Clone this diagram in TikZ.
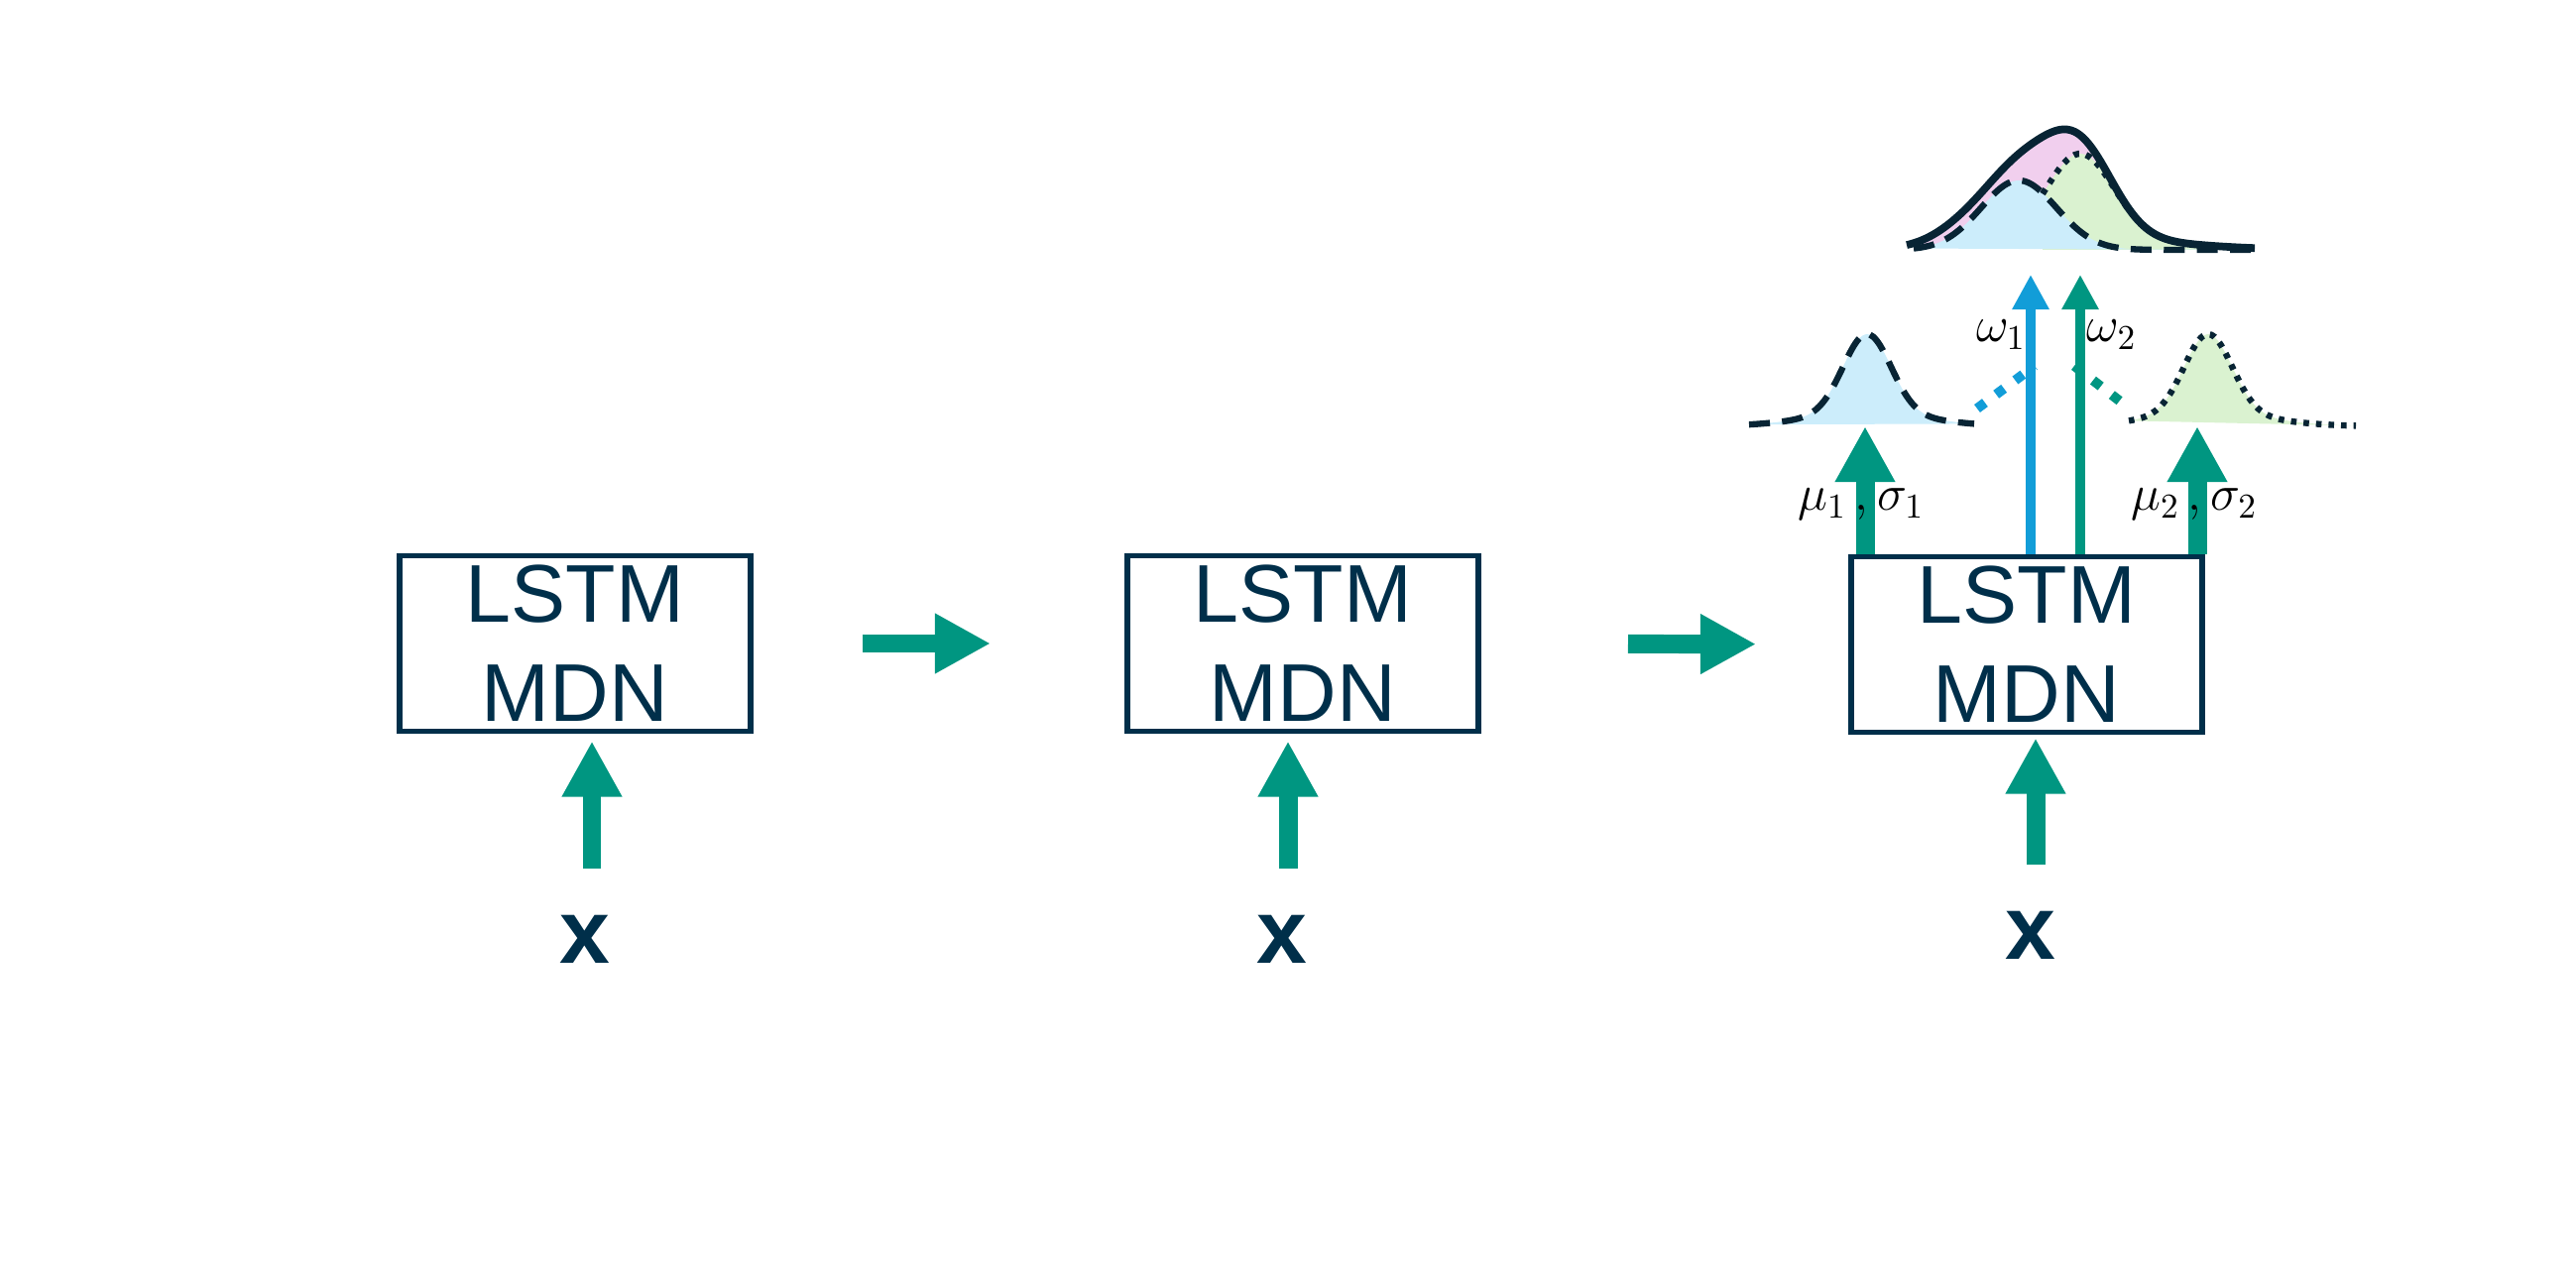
\documentclass[tikz,border=0pt]{standalone}
\usepackage{fontspec}
\setmainfont{Liberation Sans}
\usetikzlibrary{arrows.meta}
\definecolor{navyc}{RGB}{0,47,74}
\definecolor{tealc}{RGB}{0,150,129}
\definecolor{bluec}{RGB}{18,157,216}
\definecolor{inkc}{RGB}{8,36,52}
\definecolor{fillb}{RGB}{204,237,251}
\definecolor{fillg}{RGB}{218,242,208}
\definecolor{fillp}{RGB}{241,207,238}

\begin{document}
\begin{tikzpicture}[x=0.1mm,y=-0.1mm,
    lstm/.style={draw=navyc,line width=1.7pt,minimum width=35.4mm,minimum height=17.7mm,
      inner sep=0pt,align=center,text=navyc,font=\fontsize{23.5}{28.5}\selectfont},
    inp/.style={text=navyc,inner sep=0pt,font=\fontsize{26}{26}\selectfont\bfseries},
    fat/.style={tealc,line width=5.4pt,-{Triangle[width=16.2pt,length=16pt]}},
    slim/.style={line width=3.1pt,-{Triangle[width=10pt,length=10pt]}},
    lbl/.style={inner sep=0pt,font=\fontsize{14}{16}\selectfont},
    crv/.style={draw=inkc,line width=1.8pt},
    dashy/.style={dash pattern=on 6pt off 3.5pt},
    dotty/.style={dash pattern=on 1.6pt off 2pt},
    link/.style={line width=2.8pt,dash pattern=on 2.8pt off 4pt},
    declare function={gs(\t,\m,\s)=exp(-0.5*((\t-\m)/\s)^2);
      fa(\t)=70*gs(\t,2036,38);
      fb(\t)=85*gs(\t,2098,34)+12*gs(\t,2098,90);
      fs(\t)=fa(\t)+fb(\t)+10*gs(\t,1975,30);
      fl(\t)=80*gs(\t,1883,24)+13*gs(\t,1883,60);
      fr(\t)=80*gs(\t,2227,24)+13*gs(\t,2227,60);}]
\useasboundingbox (0,0) rectangle (2598,1299);

\node[lstm] (lstm1) at (580,649) {LSTM\\MDN};
\node[lstm] (lstm2) at (1314,649) {LSTM\\MDN};
\node[lstm] (lstm3) at (2044,650) {LSTM\\MDN};

\node[inp] (x1) at (590,947) {x};
\node[inp] (x2) at (1293,947) {x};
\node[inp] (x3) at (2048,943) {x};
\coordinate (in1) at (597,876);
\coordinate (in2) at (1299,876);
\coordinate (in3) at (2053,872);
\draw[fat,shorten >=0.7mm] (in1) -- (in1 |- lstm1.south);
\draw[fat,shorten >=0.7mm] (in2) -- (in2 |- lstm2.south);
\draw[fat,shorten >=0.3mm] (in3) -- (in3 |- lstm3.south);

\draw[fat,shorten <=11mm,shorten >=13.5mm] (lstm1) -- (lstm2);
\draw[fat,shorten <=14.8mm,shorten >=9.3mm] (lstm2) -- (lstm3);

\fill[fillb] plot[domain=1764:1991,samples=70] (\x,{430-fl(\x)}) -- cycle;
\draw[crv,dashy] plot[domain=1764:1991,samples=70,smooth] (\x,{430-fl(\x)});
\fill[fillg] plot[domain=2147:2376,samples=70] (\x,{430-fr(\x)}) -- cycle;
\draw[crv,dotty] plot[domain=2147:2376,samples=70,smooth] (\x,{430-fr(\x)});

\fill[fillp] plot[domain=1923:2274,samples=90] (\x,{252-fs(\x)}) -- cycle;
\fill[fillg] plot[domain=2060:2272,samples=60] (\x,{252-fb(\x)}) -- (2272,252) -- (2060,252) -- cycle;
\fill[fillb] plot[domain=1930:2272,samples=80] (\x,{252-fa(\x)}) -- (2272,252) -- cycle;
\draw[crv,line width=2.2pt] plot[domain=1923:2274,samples=90,smooth] (\x,{252-fs(\x)});
\draw[crv,dashy] plot[domain=1930:2272,samples=80,smooth] (\x,{252-fa(\x)});
\draw[crv,dotty] plot[domain=2060:2272,samples=60,smooth] (\x,{252-fb(\x)});

\coordinate (m1) at (1881,430);
\coordinate (m2) at (2216,430);
\coordinate (w1) at (2048,277);
\coordinate (w2) at (2098,277);
\draw[fat] (m1 |- lstm3.north) -- (m1);
\draw[fat] (m2 |- lstm3.north) -- (m2);
\draw[slim,bluec] (w1 |- lstm3.north) -- (w1);
\draw[slim,tealc] (w2 |- lstm3.north) -- (w2);

\coordinate (g1) at (1994,412);
\coordinate (k1) at (2052,369);
\coordinate (k2) at (2092,369);
\coordinate (g2) at (2145,410);
\draw[link,bluec] (g1) -- (k1);
\draw[link,tealc] (k2) -- (g2);

\node[lbl,anchor=base] (lab1) at (1877,515) {$\mu_1\,,\sigma_1$};
\node[lbl,anchor=base] (lab2) at (2213,515) {$\mu_2\,,\sigma_2$};
\node[lbl,anchor=base east] (lab3) at (2044,345) {$\omega_1$};
\node[lbl,anchor=base west] (lab4) at (2104,345) {$\omega_2$};
\end{tikzpicture}
\end{document}
